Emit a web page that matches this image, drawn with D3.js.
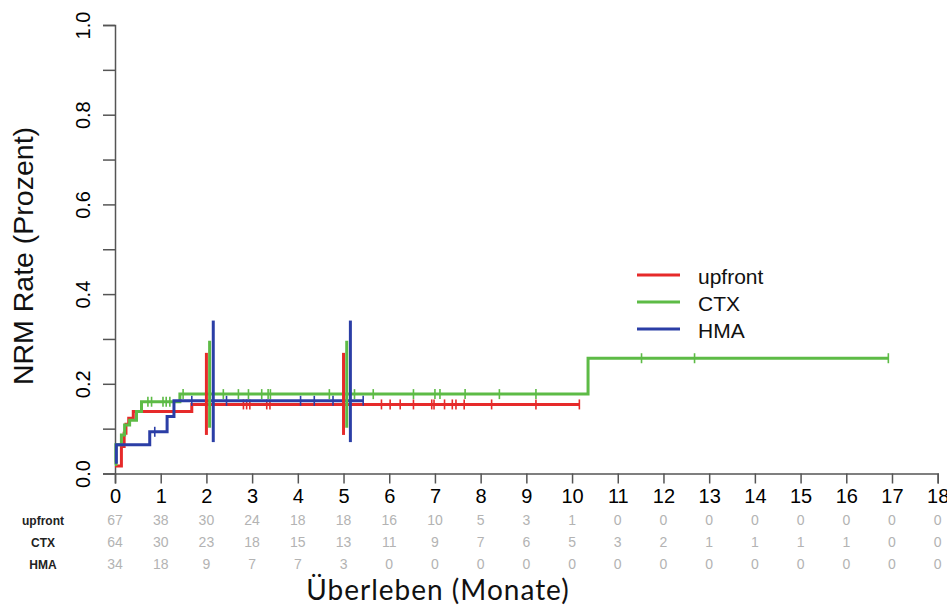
<!DOCTYPE html>
<html>
<head>
<meta charset="utf-8">
<script src="https://cdn.jsdelivr.net/npm/d3@7"></script>
<style>
  html, body { margin: 0; padding: 0; background: #fff; }
  svg { display: block; }
</style>
</head>
<body>
<svg id="chart" width="947" height="606"></svg>
<script>
// ---------- data ----------
const groups = ["upfront", "CTX", "HMA"];
const colors = ["#e62a2a", "#5dbb46", "#2b3ea6"];

// step change points (time in months, cumulative NRM)
const upfrontTimes  = [0, 0.14, 0.2, 0.24, 0.3, 0.4, 1.68];
const upfrontValues = [0.017, 0.06, 0.09, 0.11, 0.123, 0.138, 0.154];
const upfrontEnd = 10.16;

const ctxTimes  = [0, 0.02, 0.14, 0.21, 0.32, 0.47, 0.58, 1.42, 10.35];
const ctxValues = [0.02, 0.064, 0.086, 0.108, 0.119, 0.138, 0.160, 0.177, 0.257];
const ctxEnd = 16.92;

const hmaTimes  = [0, 0.03, 0.76, 1.14, 1.29];
const hmaValues = [0.025, 0.064, 0.093, 0.127, 0.162];
const hmaEnd = 5.43;

// censoring marks (months)
const upfrontCensor = [2.81, 2.88, 2.95, 3.32, 3.39, 5.83, 6.02, 6.24, 6.53, 6.93, 6.98, 7.21, 7.38, 7.46, 7.64, 8.24, 9.21, 10.16];
const ctxCensor = [0.72, 0.80, 1.05, 1.12, 1.20, 1.49, 2.37, 2.70, 2.92, 3.21, 3.35, 3.40, 4.69, 5.24, 5.65, 6.53, 7.00, 7.11, 7.66, 8.41, 9.21, 11.52, 12.68, 16.92];
const hmaCensor = [0.87, 1.68, 2.44, 4.06, 4.36, 4.77, 5.43];

// confidence intervals drawn at these times
const ciTimes = [2, 5];
const ciOffsets = [0, 0.07, 0.15];       // months, per group
const ciLower = [0.086, 0.102, 0.070];
const ciUpper = [0.269, 0.296, 0.341];

// numbers at risk
const riskTimes = d3.range(0, 19);
const upfrontRisk = [67, 38, 30, 24, 18, 18, 16, 10, 5, 3, 1, 0, 0, 0, 0, 0, 0, 0, 0];
const ctxRisk     = [64, 30, 23, 18, 15, 13, 11, 9, 7, 6, 5, 3, 2, 1, 1, 1, 1, 0, 0];
const hmaRisk     = [34, 18, 9, 7, 7, 3, 0, 0, 0, 0, 0, 0, 0, 0, 0, 0, 0, 0, 0];

const xTicks = d3.range(0, 19);
const yTicks = [0, 0.1, 0.2, 0.3, 0.4, 0.5, 0.6, 0.7, 0.8, 0.9, 1.0];
const yLabelTicks = [0, 0.2, 0.4, 0.6, 0.8, 1.0];

const xTitle = "Überleben (Monate)";
const yTitle = "NRM Rate (Prozent)";

// ---------- build ----------
const series = [
  {times: upfrontTimes, values: upfrontValues, end: upfrontEnd, censor: upfrontCensor, risk: upfrontRisk},
  {times: ctxTimes, values: ctxValues, end: ctxEnd, censor: ctxCensor, risk: ctxRisk},
  {times: hmaTimes, values: hmaValues, end: hmaEnd, censor: hmaCensor, risk: hmaRisk}
];

const svg = d3.select("#chart");
const x = d3.scaleLinear().domain([0, 18]).range([115, 937.7]);
const y = d3.scaleLinear().domain([0, 1]).range([473.5, 25]);
const axisColor = "#555";

// axes
const gx = svg.append("g").attr("transform", `translate(0,${y(0)})`)
  .call(d3.axisBottom(x).tickValues(xTicks).tickSize(10).tickPadding(5).tickFormat(d3.format("d")));
gx.select(".domain").attr("stroke", axisColor).attr("stroke-width", 1.5);
gx.selectAll(".tick line").attr("stroke", axisColor).attr("stroke-width", 1.5);
gx.selectAll(".tick text").attr("font-family", "Liberation Sans, Arial, sans-serif")
  .attr("font-size", 20).attr("fill", "#000").attr("dy", null).attr("y", 29.5);

const gy = svg.append("g").attr("transform", `translate(${x(0)},0)`)
  .call(d3.axisLeft(y).tickValues(yTicks).tickSize(12)
    .tickFormat(d => yLabelTicks.some(v => Math.abs(v - d) < 1e-9) ? d3.format(".1f")(d) : ""));
gy.select(".domain").attr("stroke", axisColor).attr("stroke-width", 1.5);
gy.selectAll(".tick line").attr("stroke", axisColor).attr("stroke-width", 1.5);
gy.selectAll(".tick text").attr("font-family", "Liberation Sans, Arial, sans-serif")
  .attr("font-size", 20).attr("fill", "#000")
  .attr("x", 0).attr("y", -25).attr("dy", null)
  .attr("text-anchor", "middle").attr("transform", "rotate(-90)");

// curves
const line = d3.line().x(d => x(d[0])).y(d => y(d[1])).curve(d3.curveStepAfter);
series.forEach((s, i) => {
  const pts = s.times.map((t, k) => [t, s.values[k]]);
  pts.push([s.end, s.values[s.values.length - 1]]);
  svg.append("path").datum(pts).attr("d", line)
    .attr("fill", "none").attr("stroke", colors[i]).attr("stroke-width", 3)
    .attr("stroke-linejoin", "miter");
  const valAt = t => { let v = s.values[0]; s.times.forEach((tt, k) => { if (tt <= t) v = s.values[k]; }); return v; };
  svg.append("g").selectAll("line").data(s.censor).join("line")
    .attr("x1", d => x(d)).attr("x2", d => x(d))
    .attr("y1", d => y(valAt(d)) - 5).attr("y2", d => y(valAt(d)) + 5)
    .attr("stroke", colors[i]).attr("stroke-width", 1.6);
});

// confidence interval bars
series.forEach((s, i) => {
  svg.append("g").selectAll("line").data(ciTimes).join("line")
    .attr("x1", t => x(t + ciOffsets[i])).attr("x2", t => x(t + ciOffsets[i]))
    .attr("y1", y(ciLower[i])).attr("y2", y(ciUpper[i]))
    .attr("stroke", colors[i]).attr("stroke-width", 3);
});

// legend
const legendY = [275, 302, 329];
groups.forEach((g, i) => {
  svg.append("line").attr("x1", 637).attr("x2", 680).attr("y1", legendY[i]).attr("y2", legendY[i])
    .attr("stroke", colors[i]).attr("stroke-width", 3);
  svg.append("text").attr("x", 698).attr("y", legendY[i] + 8.5).text(g)
    .attr("font-family", "Liberation Sans, Arial, sans-serif").attr("font-size", 21).attr("fill", "#111");
});

// risk table
const riskY = [525, 547, 569];
series.forEach((s, i) => {
  svg.append("text").attr("x", 43).attr("y", riskY[i]).attr("text-anchor", "middle").text(groups[i])
    .attr("font-family", "Liberation Sans, Arial, sans-serif").attr("font-size", 12)
    .attr("font-weight", "bold").attr("fill", "#222");
  svg.append("g").selectAll("text").data(riskTimes).join("text")
    .attr("x", t => x(t)).attr("y", riskY[i]).attr("text-anchor", "middle")
    .text((t, k) => s.risk[k])
    .attr("font-family", "Liberation Sans, Arial, sans-serif").attr("font-size", 14).attr("fill", "#b3b3b3");
});

// titles
svg.append("text").attr("x", 438).attr("y", 599.5).attr("text-anchor", "middle").text(xTitle)
  .attr("font-family", "Lato, Open Sans, sans-serif").attr("font-size", 28)
  .attr("letter-spacing", 1).attr("fill", "#111");
svg.append("text").attr("transform", "translate(33,256) rotate(-90)").attr("text-anchor", "middle").text(yTitle)
  .attr("font-family", "Liberation Sans, Arial, sans-serif").attr("font-size", 28.5).attr("fill", "#111");
</script>
</body>
</html>
